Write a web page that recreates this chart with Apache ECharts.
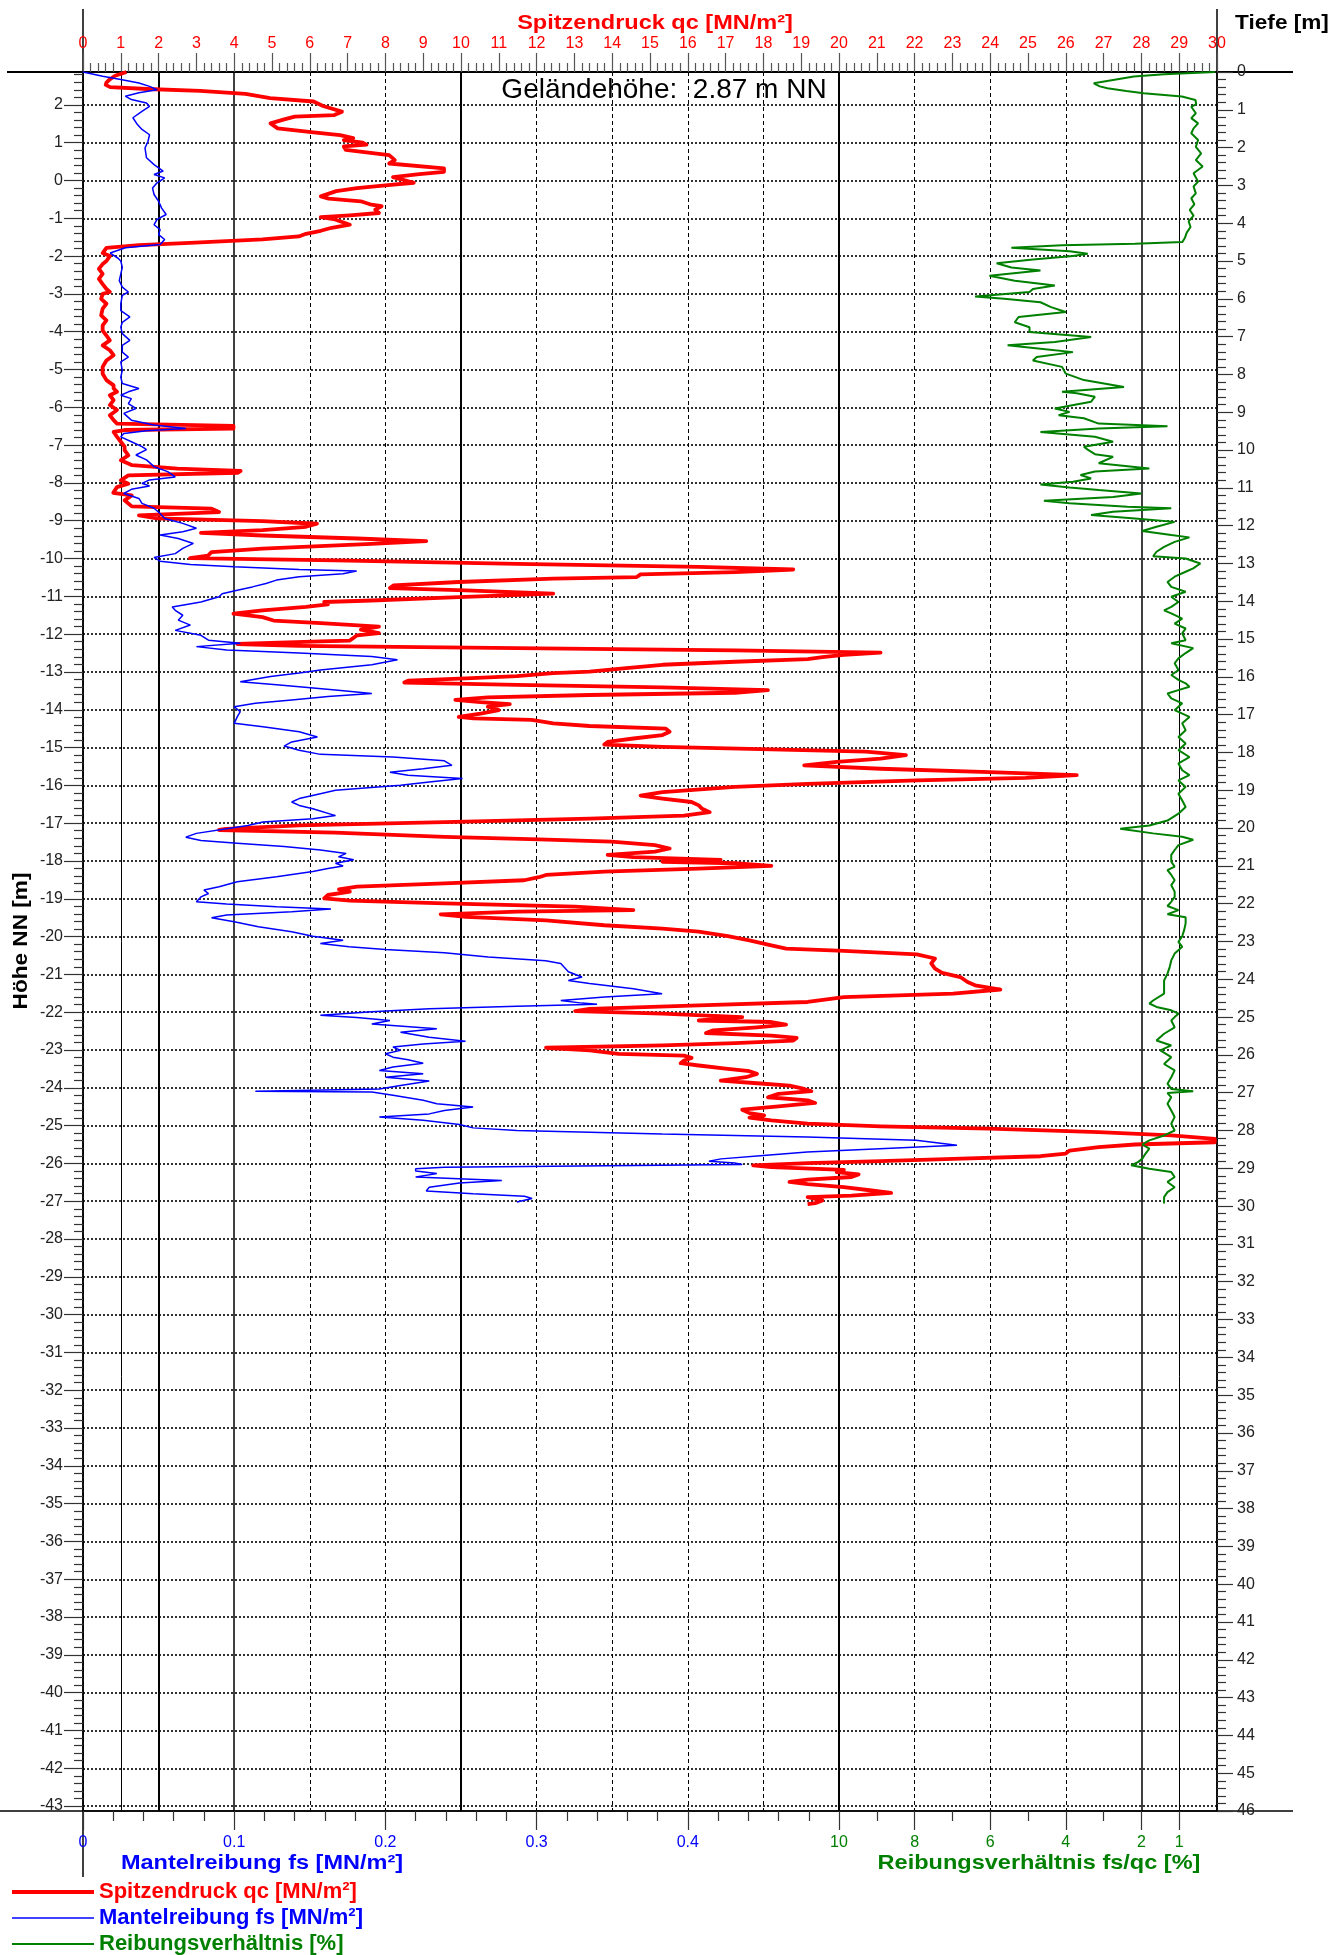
<!DOCTYPE html>
<html lang="de">
<head>
<meta charset="utf-8">
<title>Drucksondierung – Spitzendruck, Mantelreibung, Reibungsverhältnis</title>
<script src="https://cdn.jsdelivr.net/npm/echarts@6/dist/echarts.min.js"></script>
<style>
  html, body { margin: 0; padding: 0; background: #ffffff; }
  #chart { width: 1334px; height: 1955px; }
</style>
</head>
<body>
<div id="chart"></div>
<script>
// Ansatzpunkt der Sondierung
const GELAENDEHOEHE = 2.87;   // m NN
const ENDTIEFE = 46;          // dargestellter Tiefenbereich [m]

// Messwerte: [Tiefe unter Gelände in m, Messwert]
// Spitzendruck qc [MN/m²]
const qcVerlauf = [
  [0.00,1.15],[0.04,1.10],[0.10,0.85],[0.20,0.70],[0.28,0.62],[0.34,0.60],[0.40,0.72],[0.45,1.70],[0.50,3.10],[0.58,4.30],
  [0.69,4.95],[0.78,6.10],[0.90,6.35],[1.05,6.85],[1.14,6.65],[1.18,5.60],[1.26,5.30],[1.36,4.96],[1.49,5.15],[1.60,6.10],
  [1.67,6.80],[1.75,7.15],[1.80,6.90],[1.87,7.40],[1.92,7.50],[1.97,6.90],[2.06,6.95],[2.20,8.10],[2.33,8.25],[2.42,8.10],
  [2.55,9.55],[2.64,9.55],[2.70,8.90],[2.78,8.20],[2.93,8.75],[3.00,8.00],[3.07,7.25],[3.15,6.70],[3.29,6.29],[3.35,6.50],
  [3.42,7.35],[3.51,7.63],[3.55,7.90],[3.64,7.73],[3.73,7.83],[3.79,7.06],[3.84,6.29],[3.90,6.67],[4.04,7.06],[4.12,6.58],
  [4.20,6.29],[4.28,5.90],[4.35,5.71],[4.43,4.75],[4.52,2.83],[4.58,1.48],[4.65,0.62],[4.79,0.52],[4.87,0.71],[5.00,0.62],
  [5.08,0.52],[5.21,0.42],[5.34,0.52],[5.47,0.42],[5.61,0.52],[5.74,0.62],[5.82,0.71],[5.87,0.52],[6.00,0.48],[6.13,0.62],
  [6.26,0.52],[6.44,0.48],[6.57,0.62],[6.70,0.52],[6.84,0.52],[6.97,0.62],[7.10,0.71],[7.23,0.52],[7.36,0.71],[7.49,0.81],
  [7.63,0.62],[7.80,0.52],[7.98,0.52],[8.15,0.62],[8.29,0.81],[8.37,0.81],[8.46,0.90],[8.55,0.71],[8.68,0.81],[8.81,0.71],
  [8.94,0.90],[9.08,0.71],[9.21,0.81],[9.30,0.90],[9.36,3.98],[9.43,3.98],[9.47,1.10],[9.52,0.81],[9.65,0.90],[9.78,1.00],
  [9.91,1.10],[10.00,1.10],[10.14,1.20],[10.27,1.00],[10.40,1.30],[10.49,2.50],[10.55,4.17],[10.60,4.10],[10.67,1.20],[10.80,1.00],
  [10.89,1.20],[10.98,0.90],[11.13,0.80],[11.20,1.29],[11.33,1.10],[11.49,1.29],[11.55,3.40],[11.64,3.60],[11.73,1.48],[11.81,1.96],
  [11.88,4.75],[11.95,6.19],[12.03,5.90],[12.12,4.75],[12.19,3.12],[12.26,4.75],[12.34,7.25],[12.41,9.08],[12.48,7.63],[12.61,4.75],
  [12.70,3.40],[12.79,3.31],[12.86,2.83],[12.92,6.67],[13.01,11.48],[13.09,16.29],[13.16,18.79],[13.23,17.25],[13.29,14.75],[13.36,14.65],
  [13.40,12.44],[13.49,9.94],[13.58,8.21],[13.65,8.12],[13.71,10.13],[13.80,12.44],[13.89,9.94],[13.98,7.63],[14.02,6.38],[14.08,6.48],
  [14.15,5.90],[14.24,4.75],[14.33,3.98],[14.42,4.75],[14.51,5.04],[14.58,6.29],[14.67,7.83],[14.75,7.35],[14.84,7.83],[14.90,7.25],
  [15.04,7.06],[15.06,6.29],[15.13,4.08],[15.18,5.71],[15.24,11.48],[15.30,17.25],[15.36,21.10],[15.42,20.13],[15.48,19.56],[15.53,19.17],
  [15.60,17.25],[15.68,15.33],[15.77,14.37],[15.86,13.40],[15.90,12.44],[15.98,11.48],[16.04,10.13],[16.10,8.60],[16.15,8.50],[16.21,11.48],
  [16.28,15.33],[16.35,18.12],[16.42,17.25],[16.48,13.40],[16.54,10.71],[16.61,9.85],[16.67,10.52],[16.72,11.29],[16.79,10.71],[16.88,11.00],
  [16.97,10.52],[17.06,9.94],[17.10,10.33],[17.14,11.87],[17.23,12.44],[17.30,13.40],[17.37,15.42],[17.45,15.52],[17.54,15.33],[17.63,14.56],
  [17.72,13.88],[17.79,13.79],[17.85,15.33],[17.92,18.21],[17.98,20.71],[18.07,21.77],[18.16,21.10],[18.25,19.94],[18.34,19.08],[18.43,21.10],
  [18.52,23.98],[18.60,26.29],[18.67,24.94],[18.74,22.06],[18.83,19.17],[18.91,17.25],[19.05,15.33],[19.14,14.75],[19.22,15.33],[19.31,16.10],
  [19.40,16.29],[19.49,16.38],[19.58,16.58],[19.67,15.90],[19.75,13.40],[19.84,9.56],[19.93,5.71],[20.02,3.79],
  [20.05,3.60],[20.12,6.67],[20.23,9.56],[20.30,12.06],[20.36,13.98],[20.45,15.13],[20.54,15.52],[20.62,15.13],[20.71,13.88],[20.77,14.56],
  [20.84,16.87],[20.89,15.33],[20.93,17.25],[21.00,18.21],[21.07,16.29],[21.15,13.79],[21.24,12.25],[21.30,12.06],[21.38,11.67],[21.46,9.56],
  [21.55,7.25],[21.62,6.77],[21.68,7.06],[21.77,6.48],[21.86,6.38],[21.92,7.06],[21.99,9.56],[22.08,13.02],[22.17,14.56],[22.21,11.48],
  [22.28,9.46],[22.35,10.13],[22.44,12.25],[22.57,13.79],[22.66,15.33],[22.74,16.29],[22.86,17.06],[22.97,17.63],[23.10,18.21],[23.19,18.60],
  [23.25,20.13],[23.34,22.06],[23.45,22.54],[23.58,22.44],[23.72,22.54],[23.83,22.73],[23.94,23.21],[24.07,23.40],[24.16,23.60],[24.27,24.27],
  [24.38,23.02],[24.47,20.13],[24.60,19.17],[24.69,16.29],[24.78,13.40],[24.84,13.02],[24.91,15.33],[25.00,17.44],[25.09,16.29],
  [25.13,18.21],[25.20,18.60],[25.27,17.83],[25.35,16.67],[25.42,16.48],[25.49,18.21],[25.55,18.88],[25.62,18.79],[25.69,17.25],[25.75,15.33],
  [25.81,12.25],[25.88,13.40],[25.97,14.17],[26.02,15.90],[26.08,16.10],[26.15,15.90],[26.22,15.81],[26.28,16.29],[26.37,17.06],[26.43,17.63],
  [26.50,17.83],[26.59,17.54],[26.68,16.87],[26.75,17.83],[26.81,18.69],[26.90,19.08],[26.96,19.27],[27.03,18.40],[27.12,18.12],[27.20,19.17],
  [27.27,19.37],[27.36,18.40],[27.45,17.44],[27.54,17.63],[27.60,18.02],[27.66,17.63],[27.73,18.21],[27.82,19.17],[27.89,21.10],[27.95,23.98],
  [28.04,26.87],[28.13,28.79],[28.22,29.94],[28.31,29.94],[28.37,27.83],[28.44,26.87],[28.53,26.10],[28.61,26.00],[28.68,25.33],[28.75,23.02],
  [28.81,21.10],[28.86,19.17],[28.92,17.73],[28.97,18.21],[29.04,20.13],[29.10,19.94],[29.16,20.52],[29.23,20.33],[29.30,19.17],[29.36,18.69],
  [29.42,19.17],[29.50,20.13],[29.58,20.81],[29.65,21.38],[29.72,20.33],[29.76,19.17],[29.85,19.56],[29.92,19.37],[29.95,19.17]
];

// Mantelreibung fs [MN/m²]
const fsVerlauf = [
  [0.00,0.000],[0.11,0.013],[0.20,0.025],[0.29,0.037],[0.38,0.044],[0.47,0.049],[0.55,0.037],[0.64,0.028],[0.73,0.032],[0.82,0.042],
  [0.91,0.044],[1.04,0.039],[1.21,0.033],[1.39,0.036],[1.52,0.039],[1.66,0.044],[1.83,0.043],[2.01,0.041],[2.27,0.042],[2.45,0.047],
  [2.62,0.053],[2.71,0.047],[2.80,0.054],[2.93,0.049],[3.07,0.046],[3.24,0.047],[3.42,0.050],[3.60,0.052],[3.77,0.055],[3.90,0.049],
  [4.04,0.047],[4.17,0.051],[4.30,0.050],[4.43,0.054],[4.56,0.051],[4.65,0.028],[4.79,0.018],[4.92,0.023],[5.00,0.025],
  [5.17,0.026],[5.34,0.025],[5.52,0.024],[5.69,0.026],[5.82,0.030],[5.91,0.026],[6.13,0.025],[6.31,0.025],[6.48,0.031],[6.62,0.026],
  [6.75,0.025],[6.92,0.026],[7.10,0.031],[7.23,0.026],[7.41,0.026],[7.54,0.030],[7.67,0.025],[7.89,0.026],[8.07,0.025],[8.24,0.026],
  [8.37,0.037],[8.46,0.030],[8.55,0.025],[8.64,0.032],[8.77,0.030],[8.90,0.035],[9.03,0.027],[9.21,0.032],[9.34,0.047],[9.43,0.068],
  [9.49,0.042],[9.56,0.027],[9.65,0.025],[9.78,0.032],[9.91,0.039],[9.99,0.042],
  [10.13,0.035],[10.26,0.042],[10.44,0.047],[10.57,0.056],[10.71,0.061],[10.79,0.044],[10.88,0.039],[10.95,0.044],[11.04,0.032],[11.15,0.027],
  [11.28,0.037],[11.41,0.039],[11.54,0.047],[11.68,0.051],[11.81,0.054],[11.94,0.066],[12.07,0.075],[12.16,0.066],[12.25,0.051],[12.34,0.063],
  [12.47,0.073],[12.60,0.066],[12.74,0.061],[12.84,0.047],[12.94,0.051],[13.03,0.071],[13.09,0.100],[13.16,0.143],[13.20,0.181],[13.27,0.172],
  [13.35,0.143],[13.44,0.128],[13.53,0.121],[13.62,0.112],[13.71,0.102],[13.80,0.092],[13.88,0.090],[14.02,0.078],[14.15,0.059],[14.24,0.061],
  [14.37,0.066],[14.50,0.063],[14.63,0.071],[14.77,0.061],[14.90,0.078],[15.03,0.083],
  [15.11,0.104],[15.20,0.075],[15.29,0.095],[15.37,0.143],[15.46,0.191],[15.55,0.208],[15.68,0.191],[15.82,0.157],[15.90,0.143],[15.99,0.124],
  [16.13,0.104],[16.21,0.128],[16.26,0.143],[16.35,0.167],[16.44,0.191],[16.52,0.162],[16.61,0.138],[16.70,0.114],[16.79,0.100],[16.92,0.104],
  [17.06,0.102],[17.23,0.100],[17.32,0.119],[17.45,0.143],[17.59,0.155],[17.72,0.138],[17.83,0.133],[17.94,0.143],[18.05,0.157],[18.12,0.205],
  [18.22,0.239],[18.34,0.244],[18.43,0.225],[18.52,0.203],[18.60,0.215],[18.69,0.251],[18.78,0.229],[18.87,0.210],[19.00,0.167],[19.09,0.157],
  [19.22,0.143],[19.31,0.138],[19.40,0.143],[19.49,0.152],[19.67,0.167],[19.75,0.152],[19.84,0.119],[19.93,0.109],[20.02,0.095],
  [20.14,0.075],[20.24,0.068],[20.33,0.078],[20.40,0.102],[20.49,0.133],[20.58,0.157],[20.67,0.174],[20.76,0.169],[20.84,0.179],[20.93,0.167],
  [21.00,0.172],[21.07,0.162],[21.15,0.152],[21.29,0.128],[21.42,0.102],[21.55,0.090],[21.64,0.080],[21.73,0.083],[21.82,0.078],[21.95,0.075],
  [22.01,0.095],[22.08,0.128],[22.14,0.164],[22.21,0.138],[22.30,0.095],[22.37,0.085],[22.48,0.100],[22.61,0.116],[22.74,0.138],[22.86,0.152],
  [22.97,0.172],[23.05,0.157],[23.14,0.176],[23.21,0.200],[23.30,0.239],[23.41,0.268],[23.51,0.306],[23.58,0.316],[23.67,0.318],[23.80,0.321],
  [23.94,0.330],[24.03,0.321],[24.11,0.335],[24.25,0.364],[24.38,0.383],[24.47,0.345],[24.56,0.316],[24.63,0.330],[24.66,0.340],[24.71,0.287],
  [24.78,0.229],[24.86,0.191],[24.95,0.157],[25.01,0.181],[25.09,0.203],
  [25.18,0.191],[25.31,0.234],[25.40,0.210],[25.53,0.229],[25.64,0.253],[25.71,0.225],[25.79,0.205],[25.88,0.210],[25.97,0.200],[26.06,0.205],
  [26.13,0.215],[26.22,0.225],[26.32,0.205],[26.41,0.196],[26.50,0.225],[26.59,0.200],[26.69,0.229],[26.81,0.210],[26.90,0.196],[26.96,0.114],
  [26.98,0.191],[27.07,0.205],[27.20,0.225],[27.29,0.234],[27.38,0.258],[27.47,0.239],[27.56,0.229],[27.64,0.196],[27.73,0.225],[27.84,0.249],
  [27.93,0.258],[28.00,0.287],[28.09,0.383],[28.17,0.479],[28.26,0.551],[28.39,0.578],[28.48,0.527],[28.57,0.479],[28.66,0.450],[28.75,0.422],
  [28.81,0.414],[28.86,0.431],[28.90,0.436],[28.97,0.239],[29.01,0.220],[29.07,0.220],[29.14,0.234],[29.23,0.220],[29.32,0.277],[29.39,0.249],
  [29.50,0.229],[29.60,0.227],[29.67,0.258],[29.74,0.292],[29.80,0.297],[29.89,0.287]
];

// Reibungsverhältnis fs/qc [%]
const rfVerlauf = [
  [0.00,0.05],[0.06,1.40],[0.12,2.20],[0.30,3.26],[0.38,3.10],[0.43,2.90],[0.50,2.40],[0.56,1.94],[0.65,0.93],[0.74,0.57],
  [0.85,0.55],[0.92,0.68],[1.09,0.56],[1.22,0.68],[1.36,0.50],[1.49,0.62],[1.62,0.68],[1.80,0.50],[1.98,0.56],[2.15,0.42],
  [2.33,0.56],[2.50,0.38],[2.68,0.62],[2.90,0.50],[3.03,0.62],[3.21,0.56],[3.34,0.68],[3.50,0.60],[3.65,0.72],[3.80,0.62],
  [3.95,0.75],[4.10,0.70],[4.25,0.80],[4.39,0.85],[4.50,0.92],[4.54,2.17],[4.58,4.10],[4.65,5.44],[4.74,3.90],[4.81,3.42],
  [4.87,3.81],[4.96,4.87],
  [5.06,5.83],[5.17,5.44],[5.25,4.67],[5.39,6.02],[5.52,5.35],[5.65,4.29],[5.74,4.87],[5.82,4.96],[5.94,6.40],[6.00,5.63],
  [6.09,4.67],[6.22,4.39],[6.35,4.00],[6.48,5.25],[6.62,5.35],[6.75,4.96],[6.88,4.96],[7.01,3.33],[7.14,4.29],[7.23,5.54],
  [7.32,4.67],[7.41,3.81],[7.54,4.77],[7.63,4.87],[7.80,4.10],[7.98,4.00],[8.15,3.52],[8.33,2.46],[8.46,4.10],[8.50,3.71],
  [8.59,3.23],[8.72,3.33],[8.90,4.29],[8.99,3.90],[9.08,4.19],[9.16,3.52],[9.30,3.13],[9.37,1.31],[9.43,3.13],[9.52,4.67],
  [9.65,3.23],[9.78,2.75],[9.91,3.52],[9.99,3.42],
  [10.11,3.23],[10.18,2.75],[10.35,3.13],[10.49,1.79],[10.57,3.23],[10.66,3.61],[10.75,3.33],[10.84,3.81],[10.91,4.67],[10.99,3.90],
  [11.06,3.13],[11.15,2.00],[11.24,2.75],[11.34,4.58],[11.41,3.90],[11.50,2.37],[11.54,1.21],[11.63,2.75],[11.72,3.33],[11.81,2.17],
  [11.90,1.12],[12.03,1.60],[12.14,1.98],[12.25,1.21],[12.31,0.73],[12.43,1.12],[12.56,1.40],[12.69,1.60],[12.81,1.69],[12.87,0.83],
  [13.00,0.44],[13.13,0.63],[13.22,0.83],[13.35,1.12],[13.49,1.31],[13.62,1.21],[13.75,0.83],[13.88,1.21],[14.02,1.02],[14.15,1.21],
  [14.24,1.40],[14.32,1.21],[14.46,0.92],[14.59,1.12],[14.72,0.83],[14.85,0.92],[15.03,0.83],
  [15.11,1.21],[15.24,0.63],[15.37,0.83],[15.51,1.02],[15.64,1.12],[15.82,1.02],[15.95,1.21],[16.08,1.02],[16.17,0.83],[16.26,0.73],
  [16.35,1.02],[16.44,1.31],[16.57,1.21],[16.70,0.92],[16.88,1.12],[17.06,0.73],[17.23,0.92],[17.41,0.83],[17.59,1.02],[17.76,0.83],
  [17.94,1.02],[18.12,0.73],[18.29,1.02],[18.47,0.92],[18.60,0.73],[18.74,1.02],[18.91,0.83],[19.09,1.02],[19.27,0.92],[19.44,0.83],
  [19.62,1.02],[19.80,1.31],[19.93,1.79],[20.02,2.56],
  [20.14,1.69],[20.23,0.92],[20.31,0.63],[20.45,1.02],[20.58,1.12],[20.71,1.21],[20.89,1.21],[21.02,1.12],[21.11,1.31],[21.24,1.21],
  [21.38,1.12],[21.51,1.21],[21.68,1.12],[21.82,1.12],[21.95,1.21],[22.06,1.31],[22.17,1.02],[22.28,1.31],[22.36,0.83],[22.52,0.83],
  [22.70,0.87],[22.86,0.92],[23.01,1.02],[23.14,0.92],[23.32,1.12],[23.50,1.21],[23.67,1.25],[23.85,1.31],[24.03,1.40],[24.20,1.40],
  [24.38,1.40],[24.56,1.69],[24.64,1.79],[24.73,1.60],[24.82,1.21],[24.91,1.02],[25.00,1.12],[25.09,1.21],
  [25.27,1.12],[25.44,1.40],[25.62,1.60],[25.75,1.21],[25.88,1.50],[26.06,1.21],[26.24,1.40],[26.41,1.12],[26.59,1.21],[26.76,1.31],
  [26.90,1.21],[26.96,0.63],[27.01,1.31],[27.12,1.21],[27.29,1.31],[27.47,1.21],[27.64,1.12],[27.82,1.21],[28.00,1.12],[28.13,1.40],
  [28.26,1.79],[28.37,1.98],[28.48,1.79],[28.61,1.89],[28.75,1.98],[28.83,2.08],[28.92,2.27],[29.01,1.79],[29.10,1.21],[29.23,1.12],
  [29.36,1.31],[29.50,1.12],[29.63,1.31],[29.76,1.40],[29.93,1.40]
];

// Achsteilungen
const fsBeschriftung = [0, 0.1, 0.2, 0.3, 0.4];
const rfBeschriftung = [10, 8, 6, 4, 2, 1];
const rfZwischenstriche = [9, 7, 5, 3];
const hoehenBeschriftung = [];
for (let h = 2; h >= -43; h--) hoehenBeschriftung.push(h);

// Zwischenstriche (0,02 MN/m² bzw. 0,2 m)
const fsZwischenstriche = [];
for (let k = 1; k < 25; k++) if (k % 5 !== 0) fsZwischenstriche.push(+(k * 0.02).toFixed(2));
const hoehenZwischenstriche = [];
for (let k = 14; k >= -215; k--) if (k % 5 !== 0) hoehenZwischenstriche.push(k / 5);

// senkrechte Rasterlinien in qc-Einheiten
const senkrechtesRaster = [
  { qc: 0,  art: 'dashed', breite: 1 },
  { qc: 1,  art: 'solid',  breite: 1 },
  { qc: 2,  art: 'solid',  breite: 2 },
  { qc: 4,  art: 'solid',  breite: 1.5 },
  { qc: 6,  art: 'dashed', breite: 1 },
  { qc: 8,  art: 'dashed', breite: 1 },
  { qc: 10, art: 'solid',  breite: 2 },
  { qc: 12, art: 'dashed', breite: 1 },
  { qc: 14, art: 'dashed', breite: 1 },
  { qc: 16, art: 'dashed', breite: 1 },
  { qc: 18, art: 'dashed', breite: 1 },
  { qc: 20, art: 'solid',  breite: 2 },
  { qc: 22, art: 'dashed', breite: 1 },
  { qc: 24, art: 'dashed', breite: 1 },
  { qc: 26, art: 'dashed', breite: 1 },
  { qc: 28, art: 'solid',  breite: 1.5 },
  { qc: 29, art: 'solid',  breite: 1 }
];

const ROT = '#ff0000', BLAU = '#0000ff', GRUEN = '#008000', SCHWARZ = '#000000';
const SCHRIFT = "'Liberation Sans', Arial, sans-serif";
const SCHRIFT_SCHMAL = "'Liberation Sans Narrow', 'Arial Narrow', 'Liberation Sans', sans-serif";

const RAHMEN = { left: 83, top: 72, width: 1134, height: 1739 };
const rechts = RAHMEN.left + RAHMEN.width;
const unten = RAHMEN.top + RAHMEN.height;

const LINIENBREITE = { qc: 3.8, fs: 1.5, rf: 2 };
const strich = { color: '#555555', width: 1.2 };

const rasterLinien = [
  ...senkrechtesRaster.map(r => ({
    xAxis: r.qc,
    lineStyle: { color: SCHWARZ, width: r.breite, type: r.art === 'dashed' ? [4, 3] : 'solid' }
  })),
  ...hoehenBeschriftung.map(h => ({
    yAxis: GELAENDEHOEHE - h,
    lineStyle: { color: SCHWARZ, width: 1.6, type: [2, 2] }
  }))
];

// Legendensymbol als waagerechter Strich in Linienstärke der Reihe
const strichSymbol = b => 'path://M0,0H82V' + b + 'H0Z';

function untereAchse(werte, max, lang, farbe, umgekehrt, mitLinie) {
  return {
    type: 'value', position: 'bottom', min: 0, max: max, inverse: umgekehrt,
    axisLine: { show: mitLinie, onZero: false, lineStyle: { color: SCHWARZ, width: 1.5 } },
    axisTick: { show: true, customValues: werte, length: lang, lineStyle: { color: '#333', width: 1.2 } },
    axisLabel: farbe ? {
      show: true, customValues: werte, color: farbe, fontSize: 16, fontFamily: SCHRIFT, margin: 24,
      formatter: v => String(v)
    } : { show: false },
    splitLine: { show: false }
  };
}

const option = {
  animation: false,
  backgroundColor: '#ffffff',
  grid: { left: RAHMEN.left, top: RAHMEN.top, width: RAHMEN.width, height: RAHMEN.height, containLabel: false },
  xAxis: [
    {
      type: 'value', position: 'top', min: 0, max: 30, interval: 1,
      axisLine: { onZero: false, lineStyle: { color: SCHWARZ, width: 2 } },
      axisTick: { length: 19, lineStyle: strich },
      minorTick: { show: true, splitNumber: 5, length: 9, lineStyle: strich },
      axisLabel: { color: ROT, fontSize: 16, fontFamily: SCHRIFT_SCHMAL, margin: 20 },
      splitLine: { show: false }
    },
    untereAchse(fsBeschriftung, 0.75, 19, BLAU, false, true),
    untereAchse(fsZwischenstriche, 0.75, 10, null, false, false),
    untereAchse(rfBeschriftung, 30, 19, GRUEN, true, false),
    untereAchse(rfZwischenstriche, 30, 10, null, true, false)
  ],
  yAxis: [
    {
      type: 'value', position: 'right', min: 0, max: ENDTIEFE, interval: 1, inverse: true,
      axisLine: { onZero: false, lineStyle: { color: SCHWARZ, width: 1.5 } },
      axisTick: { length: 16, lineStyle: { color: '#333', width: 1.2 } },
      minorTick: { show: true, splitNumber: 5, length: 9, lineStyle: { color: '#333', width: 1.2 } },
      axisLabel: { color: '#222', fontSize: 16, fontFamily: SCHRIFT, margin: 20 },
      splitLine: { show: false }
    },
    {
      type: 'value', position: 'left', min: GELAENDEHOEHE - ENDTIEFE, max: GELAENDEHOEHE,
      axisLine: { show: true, onZero: false, lineStyle: { color: SCHWARZ, width: 1.5 } },
      axisTick: { customValues: hoehenBeschriftung, length: 19, lineStyle: { color: '#333', width: 1.2 } },
      axisLabel: { customValues: hoehenBeschriftung, color: '#222', fontSize: 16, fontFamily: SCHRIFT, margin: 20,
                   formatter: v => String(Math.round(v)) },
      splitLine: { show: false }
    },
    {
      type: 'value', position: 'left', offset: 0, min: GELAENDEHOEHE - ENDTIEFE, max: GELAENDEHOEHE,
      axisLine: { show: false, onZero: false },
      axisTick: { customValues: hoehenZwischenstriche, length: 9, lineStyle: { color: '#333', width: 1.2 } },
      axisLabel: { show: false },
      splitLine: { show: false }
    }
  ],
  legend: {
    orient: 'vertical', left: 7, top: 1876, height: 100, itemWidth: 82, itemHeight: 14, itemGap: 4,
    selectedMode: false,
    textStyle: { fontFamily: SCHRIFT, fontWeight: 'bold', fontSize: 22, lineHeight: 22 },
    data: [
      { name: 'Spitzendruck qc [MN/m²]', icon: strichSymbol(LINIENBREITE.qc), textStyle: { color: ROT } },
      { name: 'Mantelreibung fs [MN/m²]', icon: strichSymbol(LINIENBREITE.fs), textStyle: { color: BLAU } },
      { name: 'Reibungsverhältnis [%]', icon: strichSymbol(LINIENBREITE.rf), textStyle: { color: GRUEN } }
    ]
  },
  series: [
    {
      name: 'Spitzendruck qc [MN/m²]', type: 'line', xAxisIndex: 0, yAxisIndex: 0, z: 10,
      symbol: 'none', showSymbol: false, silent: true,
      lineStyle: { color: ROT, width: LINIENBREITE.qc, join: 'round' }, itemStyle: { color: ROT },
      data: qcVerlauf.map(([t, v]) => [v, t]),
      markLine: {
        silent: true, z: 5, animation: false, symbol: ['none', 'none'],
        label: { show: false }, emphasis: { disabled: true },
        data: rasterLinien
      }
    },
    {
      name: 'Mantelreibung fs [MN/m²]', type: 'line', xAxisIndex: 1, yAxisIndex: 0, z: 11,
      symbol: 'none', showSymbol: false, silent: true,
      lineStyle: { color: BLAU, width: LINIENBREITE.fs }, itemStyle: { color: BLAU },
      data: fsVerlauf.map(([t, v]) => [v, t])
    },
    {
      name: 'Reibungsverhältnis [%]', type: 'line', xAxisIndex: 3, yAxisIndex: 0, z: 12,
      symbol: 'none', showSymbol: false, silent: true,
      lineStyle: { color: GRUEN, width: LINIENBREITE.rf }, itemStyle: { color: GRUEN },
      data: rfVerlauf.map(([t, v]) => [v, t])
    }
  ],
  graphic: {
    elements: [
      // Achsrahmen über den Diagrammbereich hinaus
      { type: 'line', silent: true, shape: { x1: 7, y1: RAHMEN.top, x2: 1293, y2: RAHMEN.top }, style: { stroke: SCHWARZ, lineWidth: 2 } },
      { type: 'line', silent: true, shape: { x1: 0, y1: unten, x2: 1293, y2: unten }, style: { stroke: SCHWARZ, lineWidth: 1.5 } },
      { type: 'line', silent: true, shape: { x1: RAHMEN.left, y1: 9, x2: RAHMEN.left, y2: 1877 }, style: { stroke: SCHWARZ, lineWidth: 1.5 } },
      { type: 'line', silent: true, shape: { x1: rechts, y1: 9, x2: rechts, y2: unten }, style: { stroke: SCHWARZ, lineWidth: 1.5 } },
      // Beschriftungen
      { type: 'text', silent: true, x: 655, y: 23, scaleX: 1.12,
        style: { text: 'Spitzendruck qc [MN/m²]', fill: ROT, fontFamily: SCHRIFT, fontWeight: 'bold', fontSize: 21,
                 textAlign: 'center', textVerticalAlign: 'middle' } },
      { type: 'text', silent: true, x: 1282, y: 23, scaleX: 1.13,
        style: { text: 'Tiefe [m]', fill: SCHWARZ, fontFamily: SCHRIFT, fontWeight: 'bold', fontSize: 20,
                 textAlign: 'center', textVerticalAlign: 'middle' } },
      { type: 'text', silent: true, x: 664, y: 90,
        style: { text: 'Geländehöhe:  ' + GELAENDEHOEHE.toFixed(2) + ' m NN', fill: SCHWARZ, fontFamily: SCHRIFT, fontSize: 28,
                 textAlign: 'center', textVerticalAlign: 'middle' } },
      { type: 'text', silent: true, x: 262, y: 1863, scaleX: 1.12,
        style: { text: 'Mantelreibung fs [MN/m²]', fill: BLAU, fontFamily: SCHRIFT, fontWeight: 'bold', fontSize: 21,
                 textAlign: 'center', textVerticalAlign: 'middle' } },
      { type: 'text', silent: true, x: 1039, y: 1863, scaleX: 1.12,
        style: { text: 'Reibungsverhältnis fs/qc [%]', fill: GRUEN, fontFamily: SCHRIFT, fontWeight: 'bold', fontSize: 21,
                 textAlign: 'center', textVerticalAlign: 'middle' } },
      { type: 'text', silent: true, x: 21, y: 941, rotation: Math.PI / 2, scaleX: 1.13,
        style: { text: 'Höhe NN [m]', fill: SCHWARZ, fontFamily: SCHRIFT, fontWeight: 'bold', fontSize: 20,
                 textAlign: 'center', textVerticalAlign: 'middle' } }
    ]
  }
};

const chart = echarts.init(document.getElementById('chart'), null, { renderer: 'canvas' });
chart.setOption(option);
</script>
</body>
</html>
